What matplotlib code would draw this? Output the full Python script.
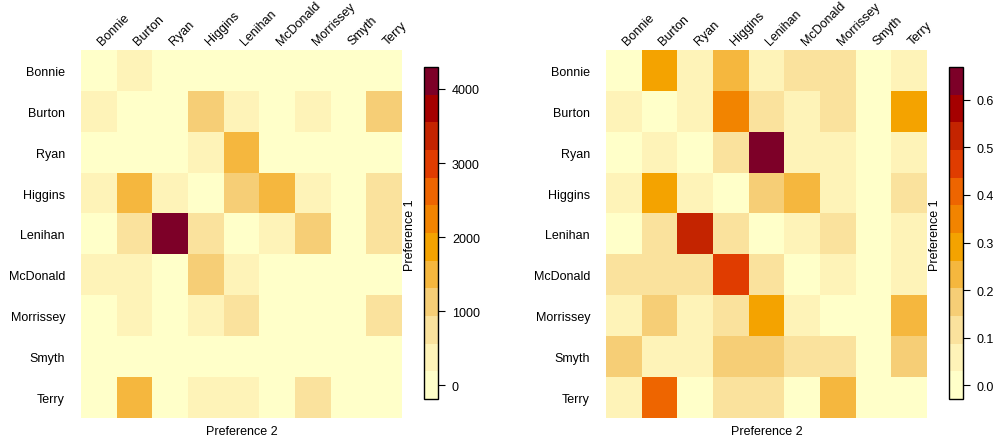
#!/usr/bin/env python3
"""Preference transfer heatmaps: raw counts (left) and row proportions (right)."""
import numpy as np
import matplotlib; matplotlib.use("Agg"); import matplotlib.pyplot as plt
from matplotlib.colors import ListedColormap, BoundaryNorm
plt.rcParams['font.family'] = ['Liberation Sans', 'DejaVu Sans']

names = ["Bonnie", "Burton", "Ryan", "Higgins", "Lenihan", "McDonald", "Morrissey", "Smyth", "Terry"]
# rows = Preference 1, cols = Preference 2
counts = np.array([
    [0, 310, 20, 60, 40, 70, 80, 0, 40],
    [280, 0, 90, 1150, 420, 150, 380, 0, 1200],
    [40, 120, 0, 400, 1600, 100, 110, 0, 130],
    [350, 1580, 380, 0, 1120, 1560, 330, 0, 700],
    [60, 780, 4110, 720, 0, 420, 1050, 0, 680],
    [330, 360, 140, 1100, 390, 0, 90, 0, 110],
    [50, 290, 30, 330, 620, 40, 0, 0, 720],
    [70, 40, 30, 90, 80, 60, 80, 0, 100],
    [30, 1580, 10, 320, 340, 20, 820, 0, 0]])
props = np.array([
    [0.00, 0.30, 0.07, 0.24, 0.06, 0.12, 0.13, 0, 0.08],
    [0.06, 0.00, 0.05, 0.34, 0.12, 0.06, 0.10, 0, 0.27],
    [0.01, 0.06, 0.00, 0.11, 0.64, 0.05, 0.06, 0, 0.07],
    [0.07, 0.29, 0.06, 0.00, 0.19, 0.23, 0.06, 0, 0.10],
    [0.01, 0.12, 0.52, 0.12, 0.00, 0.06, 0.11, 0, 0.06],
    [0.10, 0.11, 0.10, 0.47, 0.12, 0.00, 0.05, 0, 0.05],
    [0.06, 0.17, 0.06, 0.13, 0.30, 0.05, 0.00, 0, 0.23],
    [0.17, 0.06, 0.06, 0.16, 0.16, 0.11, 0.11, 0, 0.17],
    [0.06, 0.40, 0.01, 0.12, 0.12, 0.02, 0.25, 0, 0.00]])
cb_ticks_l = [0, 1000, 2000, 3000, 4000]
cb_ticks_r = [0.0, 0.1, 0.2, 0.3, 0.4, 0.5, 0.6]

pal = ["#FFFFC9", "#FEF3B8", "#FAE29D", "#F6CE76", "#F5B73E", "#F4A300",
       "#F28400", "#EE6500", "#E03C00", "#C42400", "#A50000", "#7D0028"]
cmap = ListedColormap(pal)

def breaks(z):
    # fields::image.plot style: nlevel midpoints over data range, half-step padding
    lo, hi = float(z.min()), float(z.max()); d = (hi - lo) / (len(pal) - 1) / 2
    return np.concatenate([[lo - d], np.linspace(lo, hi, len(pal)) + d])

W, H = 995, 439
fig = plt.figure(figsize=(W / 100, H / 100), dpi=100)

def panel(x0, cbx, z, ticks, fmt):
    ax = fig.add_axes([x0 / W, (H - 419) / H, 321 / W, 368 / H])
    b = breaks(z); norm = BoundaryNorm(b, cmap.N)
    im = ax.imshow(z, cmap=cmap, norm=norm, aspect='auto', interpolation='nearest')
    n = len(names)
    ax.set_xticks([]); ax.set_yticks(range(n)); ax.set_yticklabels(names, fontsize=9)
    ax.tick_params(axis='y', length=0, pad=11.5)
    for s in ax.spines.values(): s.set_visible(False)
    for i, nm in enumerate(names):
        ax.text(i + 0.16, -0.58, nm, rotation=45, rotation_mode='anchor', ha='left', va='bottom',
                fontsize=9, transform=ax.transData, clip_on=False)
    ax.set_xlabel("Preference 2", fontsize=9, labelpad=5)
    ax.set_xlim(-0.5, n - 0.5); ax.set_ylim(n - 0.5, -0.5)
    cax = fig.add_axes([cbx / W, (H - 400) / H, 14 / W, 332 / H])
    cb = fig.colorbar(im, cax=cax, boundaries=b, ticks=ticks, spacing='proportional')
    cb.outline.set_linewidth(1.0); cb.outline.set_edgecolor('black')
    cax.minorticks_off()
    cax.tick_params(length=5, width=0.8, pad=5, labelsize=9)
    cax.set_yticklabels([fmt(t) for t in ticks])
    fig.text((cbx - 14) / W, 0.465, "Preference 1", rotation=90, ha='center', va='center', fontsize=9)

panel(81, 424, counts, cb_ticks_l, lambda t: f"{t:d}")
panel(606, 949, props, cb_ticks_r, lambda t: f"{t:.1f}")

fig.savefig("out.png", dpi=100)
